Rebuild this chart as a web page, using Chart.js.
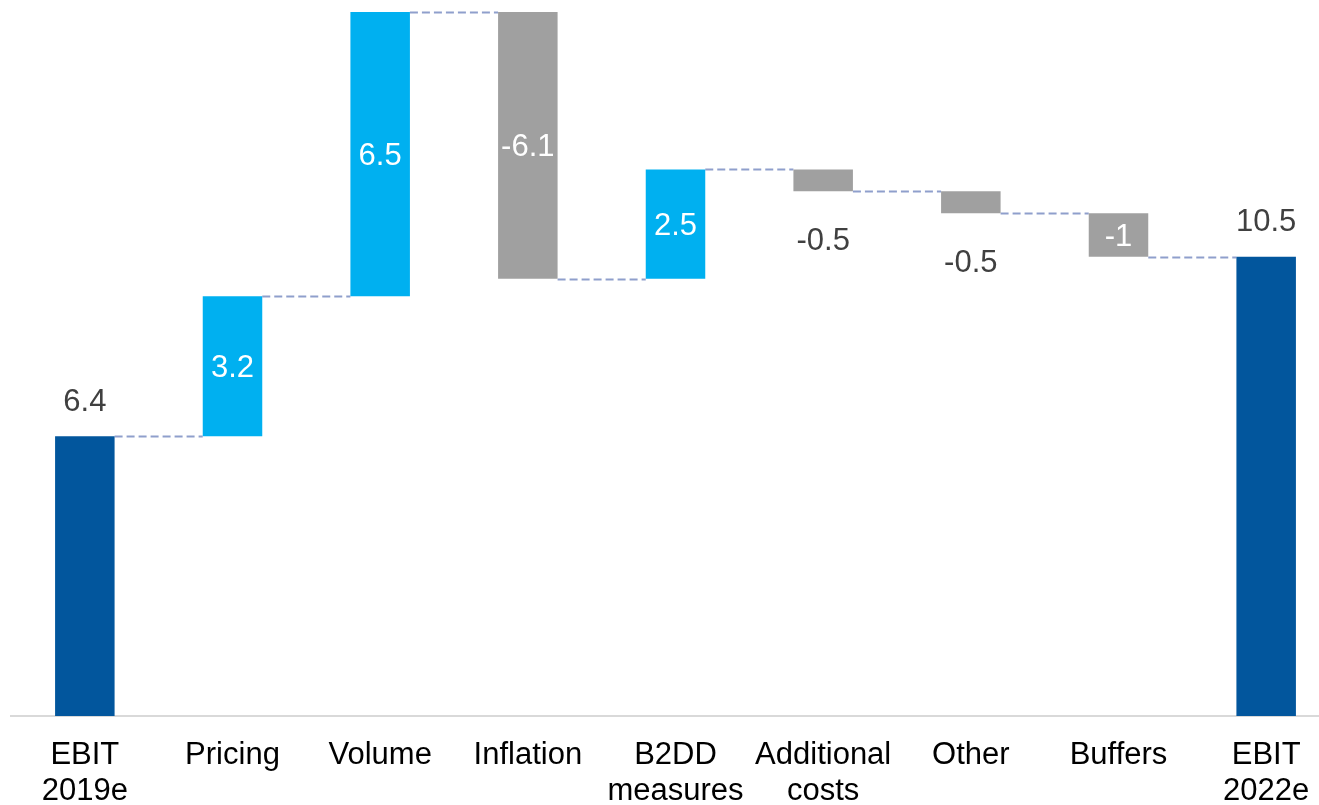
<!DOCTYPE html>
<html lang="en">
<head>
  <meta charset="UTF-8">
  <title>EBIT bridge 2019e - 2022e</title>
  <script src="https://cdn.jsdelivr.net/npm/chart.js"></script>
  <style>
    html, body { margin: 0; padding: 0; background: #fff; overflow: hidden; }
    .wrap { width: 1340px; height: 805px; }
  </style>
</head>
<body>
  <div class="wrap">
    <canvas id="bridgeChart" width="1340" height="805"></canvas>
  </div>

  <script>
    // data
    const categories = [['EBIT', '2019e'], 'Pricing', 'Volume', 'Inflation', ['B2DD', 'measures'], ['Additional', 'costs'], 'Other', 'Buffers', ['EBIT', '2022e']];
    const values = [6.4, 3.2, 6.5, -6.1, 2.5, -0.5, -0.5, -1, 10.5];
    const isTotal = [true, false, false, false, false, false, false, false, true];

    const DARK = '#02569d', LIGHT = '#00b0f0', GREY = '#a0a0a0';
    const FONT = "'Liberation Sans', Arial, sans-serif";

    // floating bar ranges from running total
    let running = 0;
    const ranges = values.map((v, i) => {
      if (isTotal[i]) { running = v; return [0, v]; }
      const start = running;
      running += v;
      return [start, running];
    });
    const colors = values.map((v, i) => isTotal[i] ? DARK : (v >= 0 ? LIGHT : GREY));

    const connectorPlugin = {
      id: 'connectors',
      beforeDatasetsDraw(chart) {
        const { ctx } = chart;
        const meta = chart.getDatasetMeta(0);
        const y = chart.scales.y;
        ctx.save();
        ctx.strokeStyle = '#8f9fcc';
        ctx.lineWidth = 1.8;
        ctx.setLineDash([8, 4]);
        for (let i = 0; i < ranges.length - 1; i++) {
          const level = ranges[i][1];
          const a = meta.data[i], b = meta.data[i + 1];
          const py = Math.round(y.getPixelForValue(level)) + 0.5;
          ctx.beginPath();
          ctx.moveTo(a.x + a.width / 2, py);
          ctx.lineTo(b.x - b.width / 2, py);
          ctx.stroke();
        }
        ctx.restore();
      }
    };

    const labelPlugin = {
      id: 'valueLabels',
      afterDatasetsDraw(chart) {
        const { ctx } = chart;
        const meta = chart.getDatasetMeta(0);
        const y = chart.scales.y;
        ctx.save();
        ctx.font = '31px ' + FONT;
        ctx.textAlign = 'center';
        ctx.textBaseline = 'middle';
        values.forEach((v, i) => {
          const bar = meta.data[i];
          const top = y.getPixelForValue(Math.max(...ranges[i]));
          const bottom = y.getPixelForValue(Math.min(...ranges[i]));
          let ty, color;
          if (isTotal[i]) { ty = top - 34; color = '#404040'; }
          else if (Math.abs(v) < 0.8) { ty = bottom + 50; color = '#404040'; }
          else { ty = (top + bottom) / 2 + 2; color = '#ffffff'; }
          ctx.fillStyle = color;
          ctx.fillText(String(v), bar.x, ty);
        });
        ctx.restore();
      }
    };

    new Chart(document.getElementById('bridgeChart'), {
      type: 'bar',
      data: {
        labels: categories,
        datasets: [{
          data: ranges,
          backgroundColor: colors,
          borderWidth: 0,
          borderSkipped: false,
          barPercentage: 0.403,
          categoryPercentage: 1
        }]
      },
      options: {
        responsive: false,
        animation: false,
        layout: { padding: { top: 12, left: 11, right: 0, bottom: 0 } },
        plugins: { legend: { display: false }, tooltip: { enabled: false } },
        scales: {
          x: {
            grid: { display: false, drawTicks: false },
            border: { display: true, color: '#d9d9d9', width: 2 },
            ticks: {
              color: '#000000',
              padding: 21,
              maxRotation: 0,
              autoSkip: false,
              font: { family: FONT, size: 31, lineHeight: 1.17 }
            },
            afterFit(scale) { scale.height = 89; }
          },
          y: { display: false, min: 0, max: 16.1 }
        }
      },
      plugins: [connectorPlugin, labelPlugin]
    });
  </script>
</body>
</html>
